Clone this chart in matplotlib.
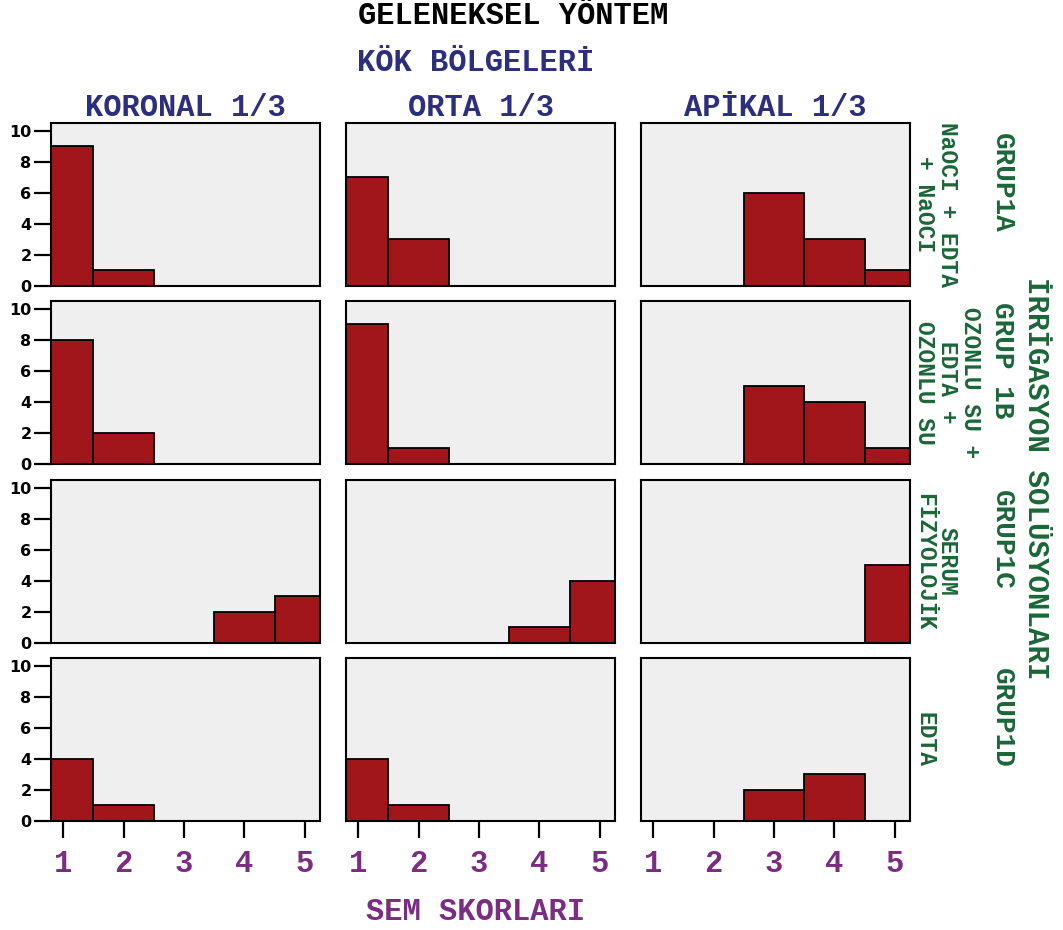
import numpy as np
import matplotlib
matplotlib.use("Agg")
import matplotlib.pyplot as plt

# SEM scores 1..5, counts per root region (columns) and irrigation group (rows)
scores = [1, 2, 3, 4, 5]
regions = ["KORONAL 1/3", "ORTA 1/3", "APİKAL 1/3"]
groups = ["GRUP1A", "GRUP 1B", "GRUP1C", "GRUP1D"]
solutions = ["NaOCI + EDTA\n+ NaOCI", "OZONLU SU +\nEDTA +\nOZONLU SU",
             "SERUM\nFİZYOLOJİK", "EDTA"]

grup1a = [[9, 1, 0, 0, 0], [7, 3, 0, 0, 0], [0, 0, 6, 3, 1]]
grup1b = [[8, 2, 0, 0, 0], [9, 1, 0, 0, 0], [0, 0, 5, 4, 1]]
grup1c = [[0, 0, 0, 2, 3], [0, 0, 0, 1, 4], [0, 0, 0, 0, 5]]
grup1d = [[4, 1, 0, 0, 0], [4, 1, 0, 0, 0], [0, 0, 2, 3, 0]]
counts = [grup1a, grup1b, grup1c, grup1d]

yticks = [0, 2, 4, 6, 8, 10]

W, H = 1063, 930
MONO = "Liberation Mono"
BAR = "#A0161B"
NAVY = "#2E2E7E"
GREEN = "#1B6638"
PURPLE = "#7B2D82"

fig = plt.figure(figsize=(W / 100, H / 100), dpi=100)

col_left = [51, 346, 641]
row_top = [123, 301, 480, 658]
aw, ah = 269, 163

for r in range(4):
    for c in range(3):
        ax = fig.add_axes([col_left[c] / W, 1 - (row_top[r] + ah) / H, aw / W, ah / H])
        ax.set_facecolor("#EFEFEF")
        ax.bar(scores, counts[r][c], width=1.0, color=BAR, edgecolor="black",
               linewidth=1.3, zorder=2)
        ax.set_xlim(0.8, 5.25)
        ax.set_ylim(0, 10.5)
        for s in ax.spines.values():
            s.set_linewidth(1.5)
        ax.tick_params(axis="both", direction="out", length=12, width=1.6)
        ax.set_xticks(scores)
        ax.set_yticks(yticks)
        if r == 3:
            ax.set_xticklabels([str(s) for s in scores], fontfamily=MONO,
                               fontweight="bold", fontsize=22, color=PURPLE)
            ax.tick_params(axis="x", pad=8)
        else:
            ax.tick_params(axis="x", length=0, labelbottom=False)
        if c == 0:
            ax.set_yticklabels([str(v) for v in yticks], fontfamily="DejaVu Sans",
                               fontweight="bold", fontsize=11.5)
            ax.tick_params(axis="y", pad=2)
        else:
            ax.tick_params(axis="y", length=0, labelleft=False)
        if r == 0:
            ax.set_title(regions[c], fontfamily=MONO, fontweight="bold",
                         fontsize=22, color=NAVY, pad=2)

def fx(px):
    return px / W

def fy(py):
    return 1 - py / H

fig.text(fx(513), fy(16), "GELENEKSEL YÖNTEM", fontfamily=MONO, fontweight="bold",
         fontsize=22, color="black", ha="center", va="center")
fig.text(fx(476), fy(63), "KÖK BÖLGELERİ", fontfamily=MONO, fontweight="bold",
         fontsize=22, color=NAVY, ha="center", va="center")
fig.text(fx(476), fy(912), "SEM SKORLARI", fontfamily=MONO, fontweight="bold",
         fontsize=22, color=PURPLE, ha="center", va="center")

for r in range(4):
    yc = row_top[r] + ah / 2
    fig.text(fx(913), fy(yc), solutions[r], fontfamily=MONO, fontweight="bold",
             fontsize=16.5, color=GREEN, rotation=-90, ha="left", va="center",
             multialignment="center", linespacing=1.0)
    fig.text(fx(1002), fy(yc - 22), groups[r], fontfamily=MONO, fontweight="bold",
             fontsize=20, color=GREEN, rotation=-90, ha="center", va="center")

fig.text(fx(1036), fy(478), "İRRİGASYON SOLÜSYONLARI", fontfamily=MONO,
         fontweight="bold", fontsize=21, color=GREEN, rotation=-90,
         ha="center", va="center")

fig.savefig("out.png", dpi=100, facecolor="white")
